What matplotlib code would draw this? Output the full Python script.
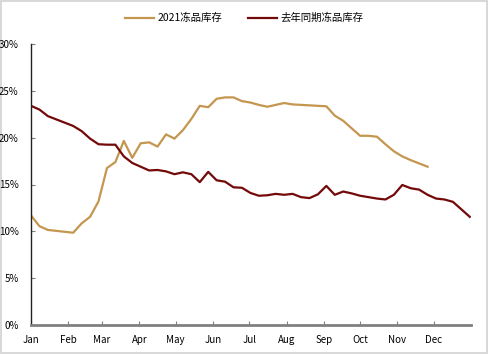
import matplotlib
matplotlib.use("Agg")
import matplotlib.pyplot as plt
from matplotlib.ticker import FuncFormatter

plt.rcParams['font.family'] = ['Noto Sans CJK SC', 'DejaVu Sans']

# weekly data (day of year = 7 * week index)
series_2021 = [11.7, 10.55, 10.15, 10.05, 9.95, 9.85, 10.85, 11.55, 13.2, 16.75,
               17.4, 19.65, 17.85, 19.4, 19.5, 19.05, 20.35, 19.9, 20.8, 22.0,
               23.4, 23.25, 24.15, 24.3, 24.3, 23.9, 23.75, 23.5, 23.3, 23.5,
               23.7, 23.55, 23.5, 23.45, 23.4, 23.35, 22.35, 21.8, 21.0, 20.2,
               20.2, 20.1, 19.3, 18.55, 18.0, 17.6, 17.25, 16.9]
series_last = [23.4, 23.0, 22.3, 21.95, 21.6, 21.25, 20.7, 19.9, 19.3, 19.25,
               19.25, 18.0, 17.3, 16.9, 16.5, 16.55, 16.4, 16.1, 16.3, 16.1,
               15.25, 16.35, 15.45, 15.3, 14.7, 14.65, 14.1, 13.8, 13.85, 14.0,
               13.9, 14.0, 13.65, 13.55, 13.95, 14.85, 13.9, 14.25, 14.05, 13.8,
               13.65, 13.5, 13.4, 13.9, 14.95, 14.6, 14.45, 13.9, 13.5, 13.4,
               13.15, 12.35, 11.55]
month_labels = ['Jan', 'Feb', 'Mar', 'Apr', 'May', 'Jun', 'Jul', 'Aug', 'Sep',
                'Oct', 'Nov', 'Dec']
month_starts = [0, 31, 59, 90, 120, 151, 181, 212, 243, 273, 304, 334]
legend_labels = ['2021冻品库存', '去年同期冻品库存']

x_2021 = [7 * i for i in range(len(series_2021))]
x_last = [7 * i for i in range(len(series_last))]

fig = plt.figure(figsize=(4.88, 3.54), dpi=100)
fig.patch.set_edgecolor('#d9d9d9')
fig.patch.set_linewidth(1.5)
ax = fig.add_axes([31 / 488, 1 - 325 / 354, (471 - 31) / 488, (325 - 44) / 354])

gold = '#C4964F'
brown = '#730909'
l1, = ax.plot(x_2021, series_2021, color=gold, lw=1.6, label=legend_labels[0])
l2, = ax.plot(x_last, series_last, color=brown, lw=1.6, label=legend_labels[1])

ax.set_xlim(0, 365)
ax.set_ylim(0, 30)
ax.set_yticks([0, 5, 10, 15, 20, 25, 30])
ax.yaxis.set_major_formatter(FuncFormatter(lambda v, p: f'{v:.0f}%'))
ax.set_xticks(month_starts)
ax.set_xticklabels(month_labels)

for s in ['top', 'right']:
    ax.spines[s].set_visible(False)
ax.spines['left'].set_color('#222222')
ax.spines['left'].set_linewidth(1.0)
ax.spines['bottom'].set_color('#808080')
ax.spines['bottom'].set_linewidth(2.0)
ax.tick_params(axis='both', direction='in', length=3, color='#808080',
               labelsize=7, labelcolor='black')
ax.tick_params(axis='x', pad=7)
ax.tick_params(axis='y', pad=9)

fig.legend(handles=[l1, l2], labels=legend_labels, loc='upper center',
           bbox_to_anchor=(0.5, 0.99), ncol=2, frameon=False, fontsize=7.5,
           handlelength=2.8, columnspacing=2.5, handletextpad=0.3)

fig.savefig('out.png', dpi=100)
